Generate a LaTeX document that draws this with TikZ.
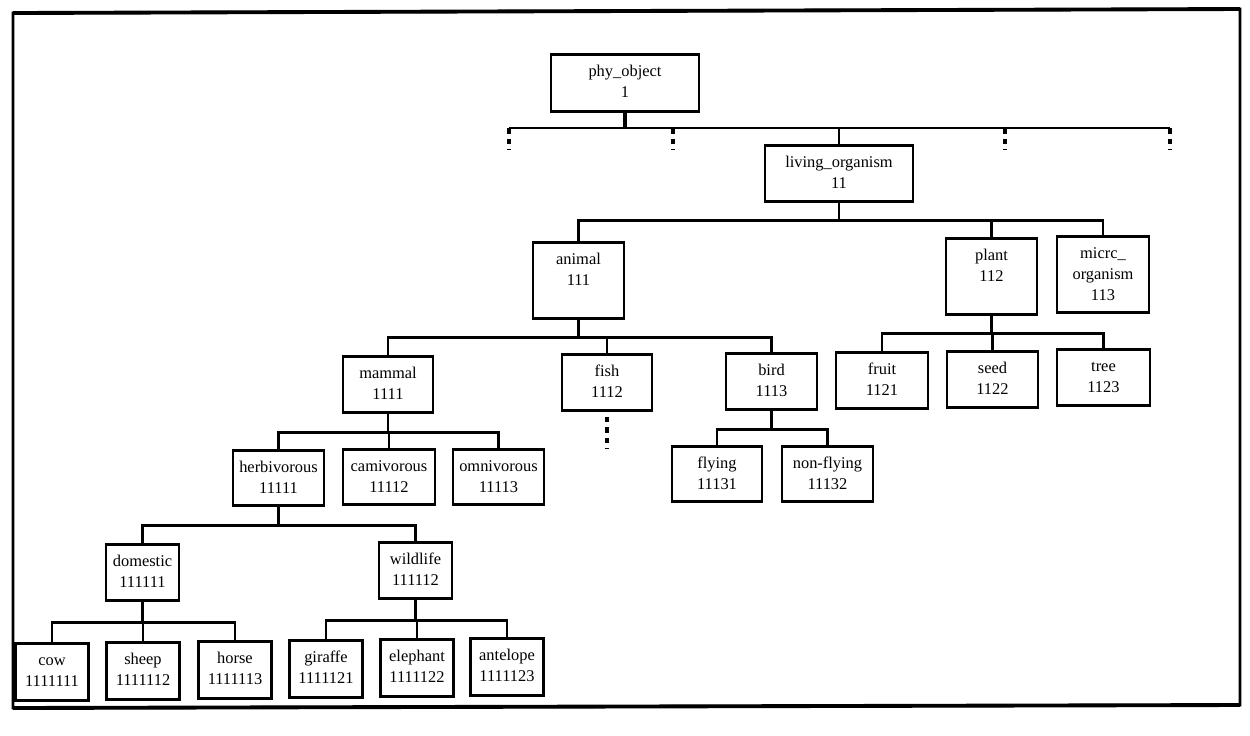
\documentclass[tikz,border=0pt]{standalone}
\usepackage{fontspec}
\setmainfont{Liberation Serif}
\begin{document}
\begin{tikzpicture}[x=0.01cm,y=-0.01cm,
  taxbox/.style={draw, line width=0.75pt, inner sep=0pt, anchor=north},
  taxtext/.style={align=center, inner sep=0pt, anchor=north,
    font=\fontsize{4.67pt}{5.97pt}\selectfont},
  link/.style={line width=0.75pt},
  trunk/.style={line width=1.3pt},
  more/.style={line width=1.1pt, dash pattern=on 1.6pt off 1.4pt}]
\useasboundingbox (0,0) rectangle (1250,735);
\fill[white] (0,0) rectangle (1250,735);

% one class: name, centre x, top y, width, height, text (px units)
\newcommand\taxon[6]{%
  \node[taxbox, minimum width={#4*0.01cm}, minimum height={#5*0.01cm}] (#1) at (#2,#3) {};
  \node[taxtext] (#1-t) at ([yshift=-0.085cm]#1.north) {\strut #6};}

% outer frame: thin sides, heavier top and bottom edges
\draw[line width=0.8pt] (13,13) -- (1240,9) -- (1240,705) -- (13,708) -- cycle;
\draw[line width=1.1pt] (13,13) -- (1240,9);
\draw[line width=1.1pt] (13,708) -- (1240,705);

% classes
\taxon{phy}{625}{53}{148}{57}{phy\_object\\1}
\taxon{living}{839}{144}{148}{56}{living\_organism\\11}
\taxon{animal}{578.5}{241}{91}{76}{animal\\111}
\taxon{plant}{991.5}{237}{91}{76}{plant\\112}
\taxon{micro}{1103}{235}{92}{76}{micrc\_\\organism\\113}
\taxon{mammal}{388}{355}{90}{56}{mammal\\1111}
\taxon{fish}{607}{353}{90}{56}{fish\\1112}
\taxon{bird}{771.5}{352}{91}{56}{bird\\1113}
\taxon{fruit}{882}{351}{92}{56}{fruit\\1121}
\taxon{seed}{992.5}{350}{91}{56}{seed\\1122}
\taxon{tree}{1103.5}{348}{93}{56}{tree\\1123}
\taxon{flying}{717}{445}{90}{55}{flying\\11131}
\taxon{nonfly}{827.5}{445}{91}{55}{non-flying\\11132}
\taxon{herb}{278.5}{449}{91}{55}{herbivorous\\11111}
\taxon{carn}{389}{448}{92}{55}{camivorous\\11112}
\taxon{omni}{498.5}{448}{91}{55}{omnivorous\\11113}
\taxon{dom}{142.5}{543}{73}{56}{domestic\\111111}
\taxon{wild}{415.5}{541}{73}{56}{wildlife\\111112}
\taxon{cow}{52}{642}{73}{57}{cow\\1111111}
\taxon{sheep}{143}{641}{73}{57}{sheep\\1111112}
\taxon{horse}{235}{640}{73}{57}{horse\\1111113}
\taxon{giraffe}{326}{639}{73}{57}{giraffe\\1111121}
\taxon{elephant}{417}{638}{73}{57}{elephant\\1111122}
\taxon{antelope}{507}{637}{73}{57}{antelope\\1111123}

% top level: phy_object and its (partly elided) subclasses
\coordinate (barL) at (509,128);
\coordinate (barR) at (1170,128);
\coordinate (gap1) at (673,128);
\coordinate (gap2) at (1005,128);
\draw[trunk] (phy.south) -- (phy.south |- barL);
\draw[link] (barL) -- (barR);
\draw[link] (living.north) -- (living.north |- barL);
\foreach \c in {barL,gap1,gap2,barR}
  \draw[more] (\c) -- ++(0,22);

% living_organism
\foreach \c in {animal,plant,micro}
  \draw[link] (living.south) -- ++(0,18) -| (\c.north);
% animal
\foreach \c in {mammal,fish,bird}
  \draw[link] (animal.south) -- ++(0,18) -| (\c.north);
\draw[more] (fish.south) ++(0,5) -- ++(0,32);
% bird
\foreach \c in {flying,nonfly}
  \draw[link] (bird.south) -- ++(0,19) -| (\c.north);
% plant
\foreach \c in {fruit,seed,tree}
  \draw[link] (plant.south) -- ++(0,18) -| (\c.north);
% mammal
\foreach \c in {herb,carn,omni}
  \draw[link] (mammal.south) -- ++(0,19) -| (\c.north);
% herbivorous
\foreach \c in {dom,wild}
  \draw[link] (herb.south) -- ++(0,19) -| (\c.north);
% domestic
\foreach \c in {cow,sheep,horse}
  \draw[link] (dom.south) -- ++(0,21) -| (\c.north);
% wildlife
\foreach \c in {giraffe,elephant,antelope}
  \draw[link] (wild.south) -- ++(0,21) -| (\c.north);
\end{tikzpicture}
\end{document}
